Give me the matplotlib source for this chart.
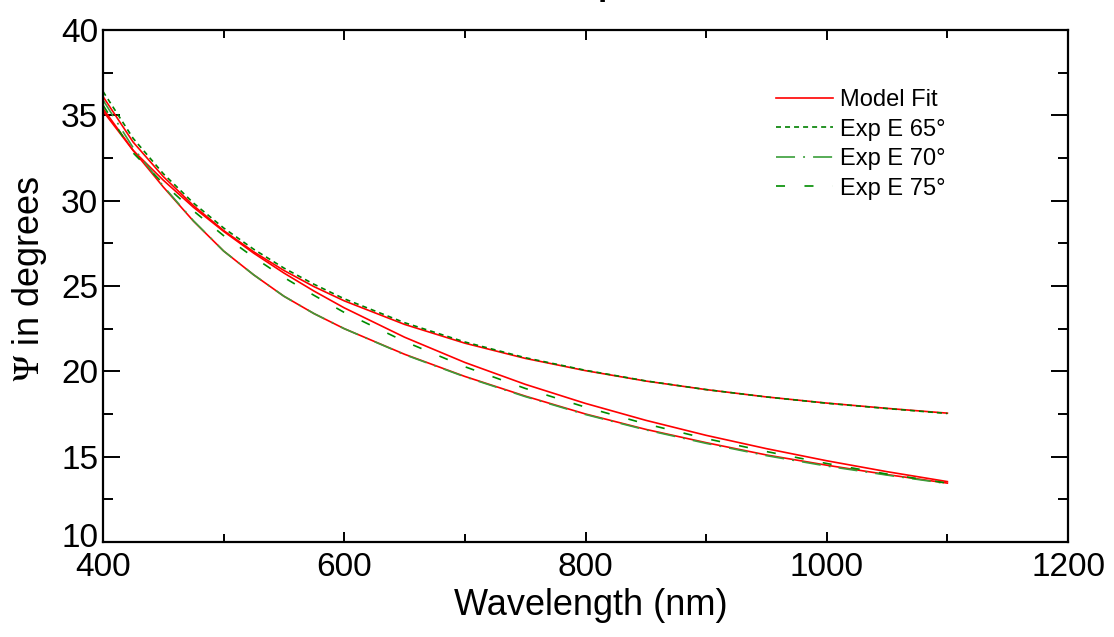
import matplotlib
matplotlib.use("Agg")
import matplotlib.pyplot as plt
from matplotlib.ticker import MultipleLocator
from matplotlib.transforms import ScaledTranslation

plt.rcParams['font.family'] = ['Liberation Sans', 'DejaVu Sans']
plt.rcParams['mathtext.fontset'] = 'stix'
plt.rcParams['lines.scale_dashes'] = False

# ---- data ----
wavelength = [400, 425, 450, 475, 500, 525, 550, 575, 600, 650, 700, 750, 800,
              850, 900, 950, 1000, 1050, 1100]

fit_65 = [36.1, 33.43, 31.41, 29.71, 28.25, 27.0, 25.91, 24.96, 24.13, 22.75,
          21.65, 20.76, 20.04, 19.43, 18.93, 18.5, 18.14, 17.83, 17.55]
fit_70 = [35.4, 32.95, 30.8, 28.8, 27.05, 25.65, 24.4, 23.38, 22.5, 21.0,
          19.7, 18.55, 17.5, 16.6, 15.82, 15.1, 14.5, 13.95, 13.45]
fit_75 = [35.25, 32.94, 31.2, 29.61, 28.2, 26.92, 25.76, 24.7, 23.72, 22.0,
          20.52, 19.24, 18.12, 17.13, 16.25, 15.47, 14.76, 14.12, 13.54]

exp_65 = [36.4, 33.65, 31.58, 29.86, 28.4, 27.15, 26.05, 25.1, 24.25, 22.85,
          21.72, 20.8, 20.06, 19.44, 18.93, 18.5, 18.13, 17.82, 17.53]
exp_70 = [35.9, 33.1, 30.85, 28.82, 27.05, 25.65, 24.4, 23.38, 22.5, 20.98,
          19.68, 18.52, 17.47, 16.57, 15.78, 15.06, 14.45, 13.92, 13.42]
exp_75 = [35.6, 32.8, 31.0, 29.4, 27.95, 26.68, 25.5, 24.45, 23.45, 21.75,
          20.27, 19.0, 17.9, 16.92, 16.06, 15.3, 14.6, 13.98, 13.45]

legend_labels = ['Model Fit', 'Exp E 65°', 'Exp E 70°', 'Exp E 75°']
x_ticks = [400, 600, 800, 1000, 1200]
y_ticks = [10, 15, 20, 25, 30, 35, 40]

# ---- figure ----
W, H = 1114, 637
fig = plt.figure(figsize=(W / 100, H / 100), dpi=100)
ax = fig.add_axes([103 / W, (H - 542) / H, (1068 - 103) / W, (542 - 30) / H])

red = '#ff0000'
g65 = '#008000'
g70 = '#3a9e3a'
g75 = '#008c00'
lw = 1.2

l_fit, = ax.plot(wavelength, fit_65, color=red, lw=lw)
ax.plot(wavelength, fit_70, color=red, lw=lw)
ax.plot(wavelength, fit_75, color=red, lw=lw)

l65, = ax.plot(wavelength, exp_65, color=g65, lw=lw, dashes=(3.6, 2.9))
l70, = ax.plot(wavelength, exp_70, color=g70, lw=lw, dashes=(13.7, 5.8, 1.4, 5.8))
l75, = ax.plot(wavelength, exp_75, color=g75, lw=lw, dashes=(6.5, 14))

ax.set_xlim(400, 1200)
ax.set_ylim(10, 40)
ax.set_xticks(x_ticks)
ax.set_yticks(y_ticks)
ax.xaxis.set_minor_locator(MultipleLocator(100))
ax.yaxis.set_minor_locator(MultipleLocator(2.5))

for s in ax.spines.values():
    s.set_linewidth(1.6)

ax.tick_params(which='both', direction='in', top=True, right=True, width=1.4,
               labelsize=24, colors='black')
ax.tick_params(axis='y', which='major', length=12, pad=3.5)
ax.tick_params(axis='y', which='minor', length=7)
ax.tick_params(axis='x', which='major', length=7.5, pad=7.5)
ax.tick_params(axis='x', which='minor', length=6)

ax.set_xlabel('Wavelength (nm)', fontsize=26)
ax.set_ylabel(r'$\mathrm{\Psi}$ in degrees', fontsize=26)
ax.xaxis.set_label_coords(0.505, -0.09)
ax.yaxis.set_label_coords(-0.056, 0.515)

leg = ax.legend([l_fit, l65, l70, l75], legend_labels,
                loc='upper left', bbox_to_anchor=(776 / W, 1 - 89 / H),
                bbox_transform=fig.transFigure, frameon=False, fontsize=17,
                handlelength=2.4, handletextpad=0.3, labelspacing=0.32,
                borderpad=0, borderaxespad=0)

fig.text(581 / W, 1 + 5 / H, 'Generated and Experimental Data',
         ha='center', va='baseline', fontsize=24, fontweight='bold')

# nudge the lowest y tick label up slightly so it clears the "400" label
fig.canvas.draw()
lab10 = ax.yaxis.get_major_ticks()[0].label1
lab10.set_transform(lab10.get_transform() +
                    ScaledTranslation(0, 5 / 72, fig.dpi_scale_trans))

fig.savefig('out.png', dpi=100)
